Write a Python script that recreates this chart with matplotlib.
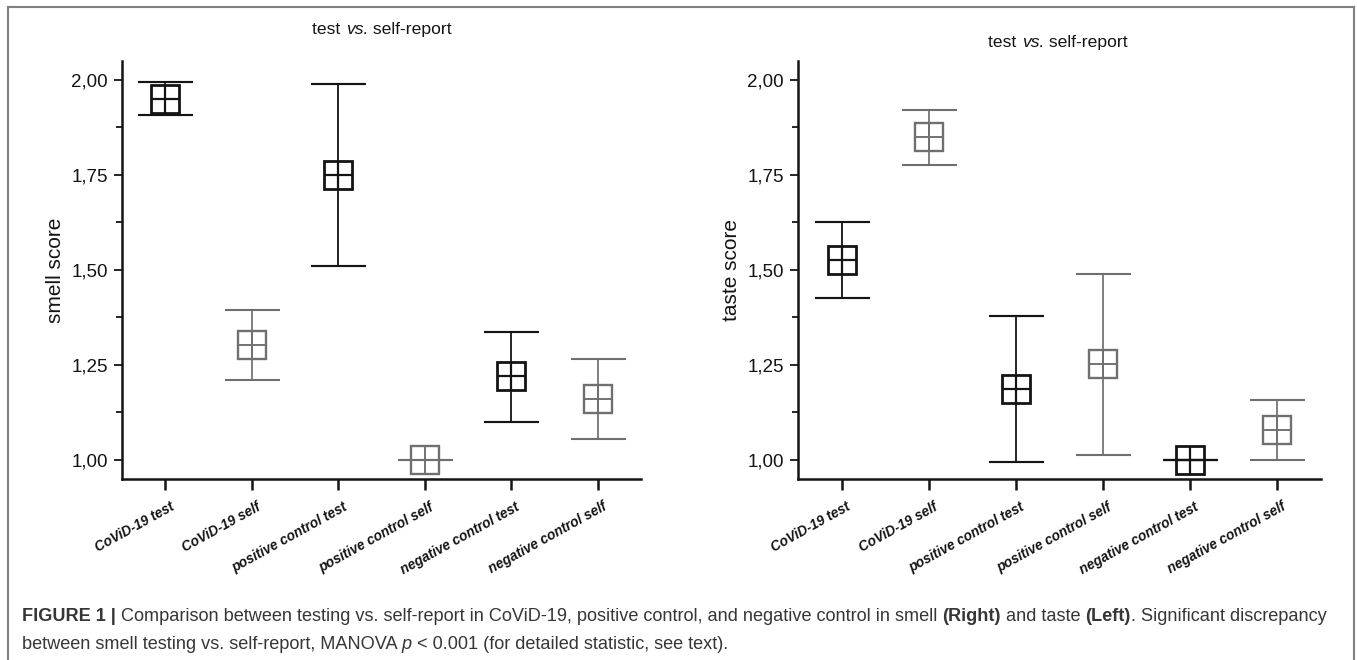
import matplotlib
matplotlib.use("Agg")
import matplotlib.pyplot as plt
from matplotlib.ticker import FixedLocator, FuncFormatter
from matplotlib.transforms import IdentityTransform, ScaledTranslation
from matplotlib.lines import Line2D

# ---------------- data ----------------
categories = ["CoViD-19 test", "CoViD-19 self", "positive control test",
              "positive control self", "negative control test", "negative control self"]
is_test = [True, False, True, False, True, False]

smell_mean = [1.950, 1.303, 1.751, 1.000, 1.220, 1.160]
smell_low = [1.907, 1.210, 1.511, 1.000, 1.101, 1.054]
smell_high = [1.994, 1.395, 1.989, 1.000, 1.338, 1.266]

taste_mean = [1.526, 1.850, 1.188, 1.252, 1.000, 1.080]
taste_low = [1.426, 1.777, 0.995, 1.012, 1.000, 1.001]
taste_high = [1.626, 1.922, 1.380, 1.489, 1.000, 1.159]

yticks_major = [1.00, 1.25, 1.50, 1.75, 2.00]
yticks_minor = [1.125, 1.375, 1.625, 1.875]

title_parts = [("test ", "normal"), ("vs.", "italic"), (" self-report", "normal")]

# ---------------- style ----------------
W, H, DPI = 1357, 660, 100
plt.rcParams['font.family'] = ['Liberation Sans', 'DejaVu Sans']
BLACK = "#141414"
GRAY = "#6f6f6f"

fig = plt.figure(figsize=(W / DPI, H / DPI), dpi=DPI)
fig.patch.set_facecolor("white")


def px_axes(x0, x1, ytop, ybot):
    return fig.add_axes([x0 / W, 1 - ybot / H, (x1 - x0) / W, (ybot - ytop) / H])


ax_smell = px_axes(122, 641, 61, 479)
ax_taste = px_axes(798, 1321, 61, 479)

marker_pt = 20.5
cap_pt = 19.8


def draw_panel(ax, means, lows, highs, ylabel):
    xs = list(range(len(categories)))
    for i in xs:
        col = BLACK if is_test[i] else GRAY
        lw_box = 2.0 if is_test[i] else 1.7
        lw_err = 1.3 if is_test[i] else 1.25
        ax.errorbar([i], [means[i]],
                    yerr=[[means[i] - lows[i]], [highs[i] - means[i]]],
                    fmt="none", ecolor=col, elinewidth=lw_err,
                    capsize=cap_pt, capthick=lw_err + 0.25, zorder=2)
        ax.plot([i], [means[i]], marker="s", ms=marker_pt, mfc="none",
                mec=col, mew=lw_box, ls="none", zorder=3)
        ax.plot([i], [means[i]], marker="+", ms=marker_pt, mec=col,
                mew=lw_box * 0.8, ls="none", zorder=3)
    ax.set_xlim(-0.5, len(categories) - 0.5)
    ax.set_ylim(0.95, 2.05)
    for s in ("top", "right"):
        ax.spines[s].set_visible(False)
    for s in ("left", "bottom"):
        ax.spines[s].set_linewidth(1.8)
        ax.spines[s].set_color(BLACK)
    ax.yaxis.set_major_locator(FixedLocator(yticks_major))
    ax.yaxis.set_minor_locator(FixedLocator(yticks_minor))
    ax.yaxis.set_major_formatter(FuncFormatter(lambda v, p: f"{v:.2f}".replace(".", ",")))
    ax.tick_params(axis="y", which="major", direction="out", length=6, width=1.3,
                   labelsize=13.5, pad=4, colors=BLACK)
    ax.tick_params(axis="y", which="minor", direction="out", length=4, width=1.3,
                   colors=BLACK)
    ax.set_xticks(xs)
    ax.set_xticklabels(categories, rotation=29, ha="right", va="top",
                       rotation_mode="anchor", fontsize=9.8,
                       fontweight="bold", fontstyle="italic")
    ax.tick_params(axis="x", which="major", direction="out", length=8, width=1.8,
                   pad=7, colors=BLACK)
    off = ScaledTranslation(3 / 72, 0, fig.dpi_scale_trans)
    for lab in ax.get_xticklabels():
        lab.set_transform(lab.get_transform() + off)
    ax.set_ylabel(ylabel, fontsize=15, labelpad=5, color=BLACK)


draw_panel(ax_smell, smell_mean, smell_low, smell_high, "smell score")
draw_panel(ax_taste, taste_mean, taste_low, taste_high, "taste score")

renderer = fig.canvas.get_renderer()


def seg_width(s, **kw):
    t1 = fig.text(0, 0, "|" + s + "|", transform=IdentityTransform(), **kw)
    t2 = fig.text(0, 0, "||", transform=IdentityTransform(), **kw)
    w = t1.get_window_extent(renderer).width - t2.get_window_extent(renderer).width
    t1.remove()
    t2.remove()
    return w


def rich(x_px, base_px, segs, size, color, center=False):
    widths = [seg_width(s, fontsize=size, **kw) for s, kw in segs]
    x = x_px - (sum(widths) / 2 if center else 0)
    y = H - base_px
    for (s, kw), w in zip(segs, widths):
        fig.text(x, y, s, transform=IdentityTransform(), fontsize=size,
                 color=color, va="baseline", ha="left", **kw)
        x += w


# titles
tsegs = [(s, {"fontstyle": st}) for s, st in title_parts]
rich(382, 34, tsegs, 12.6, BLACK, center=True)
rich(1058, 47, tsegs, 12.6, BLACK, center=True)

# caption
CAP = "#363636"
bold = {"fontweight": "bold"}
norm = {}
line1 = [("FIGURE 1 |", bold),
         (" Comparison between testing vs. self-report in CoViD-19, positive control, and negative control in smell ", norm),
         ("(Right)", bold), (" and taste ", norm), ("(Left)", bold),
         (". Significant discrepancy", norm)]
line2 = [("between smell testing vs. self-report, MANOVA ", norm), ("p", {"fontstyle": "italic"}),
         (" < 0.001 (for detailed statistic, see text).", norm)]
rich(22, 621, line1, 13.05, CAP)
rich(22, 649, line2, 13.05, CAP)

# outer frame (top, left, right)
FR = "#808080"
fig.add_artist(Line2D([7.5 / W, 7.5 / W], [0, 1 - 7 / H], transform=fig.transFigure, color=FR, lw=1.5))
fig.add_artist(Line2D([1354 / W, 1354 / W], [0, 1 - 7 / H], transform=fig.transFigure, color=FR, lw=1.5))
fig.add_artist(Line2D([7.5 / W, 1354 / W], [1 - 7 / H, 1 - 7 / H], transform=fig.transFigure, color=FR, lw=1.5))

fig.savefig("out.png", dpi=DPI, facecolor="white")
